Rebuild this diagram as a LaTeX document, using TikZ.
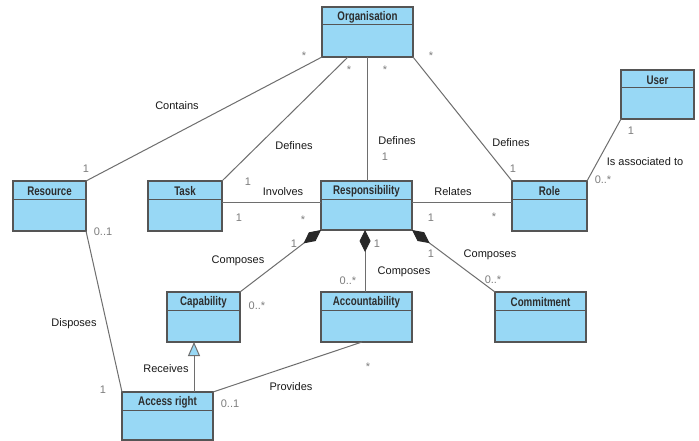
\documentclass[tikz,border=0pt]{standalone}
\usepackage{fontspec}
\usepackage{graphicx}
\setmainfont{Liberation Sans}
\usetikzlibrary{arrows.meta,calc}
\definecolor{clsfill}{RGB}{152,216,245}
\definecolor{clsdraw}{RGB}{85,85,85}
\definecolor{conn}{RGB}{110,110,110}
\definecolor{multc}{RGB}{125,125,125}
\definecolor{dia}{RGB}{40,40,40}
\definecolor{titlec}{RGB}{45,45,45}
\tikzset{
  clsbox/.style={draw=clsdraw, fill=clsfill, line width=1.1pt, inner sep=0pt, outer sep=0pt, rectangle},
  hdrline/.style={draw=clsdraw, line width=1pt},
  clstitle/.style={inner sep=0pt, text=titlec, font=\fontsize{12.5}{14}\selectfont\bfseries},
  conline/.style={draw=conn, line width=1pt},
  comp/.style={conline, {Diamond[length=22pt,width=11pt,fill=dia,color=dia]}-},
  gen/.style={conline, -{Triangle[length=14pt,width=12pt,fill=clsfill,color=conn,line width=1pt]}},
  lbl/.style={inner sep=0pt, text=black!90, font=\fontsize{11}{13}\selectfont},
  mult/.style={inner sep=0pt, text=multc, font=\fontsize{11}{13}\selectfont},
}
\newcommand{\umlcls}[6]{%
  \node[clsbox, minimum width=#4pt, minimum height=#5pt, anchor=north west] (#1) at (#2,#3) {};
  \draw[hdrline] ($(#1.north west)+(0pt,-18pt)$) -- ($(#1.north east)+(0pt,-18pt)$);
  \node[clstitle] (#1-t) at ($(#1.north)+(0pt,-10pt)$) {\scalebox{0.78}[1]{#6}};
}
\begin{document}
\begin{tikzpicture}[x=1pt,y=-1pt]
\useasboundingbox (0,0) rectangle (699,441);
\fill[white] (0,0) rectangle (699,441);

\umlcls{org}{322}{7}{91}{50}{Organisation}
\umlcls{res}{13}{181}{73}{50}{Resource}
\umlcls{task}{148}{181}{74}{50}{Task}
\umlcls{resp}{321}{181}{91}{49}{Responsibility}
\umlcls{role}{512}{181}{75}{50}{Role}
\umlcls{user}{621}{70}{73}{49}{User}
\umlcls{cap}{167}{292}{73}{50}{Capability}
\umlcls{acct}{321}{292}{91}{50}{Accountability}
\umlcls{com}{495}{292}{91}{50}{Commitment}
\umlcls{accr}{122}{392}{91}{48}{Access right}

% associations
\draw[conline] (org.south west) -- (res.north east);
\draw[conline] ($(org.south west)+(26pt,0pt)$) -- (task.north east);
\draw[conline] ($(org.south west)+(45pt,0pt)$) -- ($(resp.north west)+(46pt,0pt)$);
\draw[conline] (org.south east) -- (role.north west);
\draw[conline] (user.south west) -- (role.north east);
\draw[conline] ($(task.north east)+(0pt,-21pt)$) -- ($(resp.north west)+(0pt,-21pt)$);
\draw[conline] ($(resp.north east)+(0pt,-21pt)$) -- ($(role.north west)+(0pt,-21pt)$);
\draw[comp] (resp.south west) -- (cap.north east);
\draw[comp] ($(resp.south west)+(44pt,0pt)$) -- ($(acct.north west)+(44pt,0pt)$);
\draw[comp] (resp.south east) -- (com.north west);
\draw[gen] ($(accr.north west)+(72pt,0pt)$) -- ($(cap.south west)+(27pt,0pt)$);
\draw[conline] ($(acct.south west)+(41pt,0pt)$) -- (accr.north east);
\draw[conline] (res.south east) -- (accr.north west);

% association labels
\node[lbl] (l-contains) at (177,106) {Contains};
\node[lbl] (l-def1) at (294,146) {Defines};
\node[lbl] (l-def2) at (397,141) {Defines};
\node[lbl] (l-def3) at (511,143) {Defines};
\node[lbl] (l-assoc) at (645,162) {Is associated to};
\node[lbl] (l-inv) at (283,192) {Involves};
\node[lbl] (l-rel) at (453,192) {Relates};
\node[lbl] (l-comp1) at (238,261) {Composes};
\node[lbl] (l-comp2) at (404,272) {Composes};
\node[lbl] (l-comp3) at (490,255) {Composes};
\node[lbl] (l-rec) at (166,369) {Receives};
\node[lbl] (l-prov) at (291,387) {Provides};
\node[lbl] (l-disp) at (74,324) {Disposes};

% multiplicities
\node[mult] (m1) at (304,56) {*};
\node[mult] (m2) at (349,70) {*};
\node[mult] (m3) at (385,70) {*};
\node[mult] (m4) at (431,56) {*};
\node[mult] (m5) at (86,169) {1};
\node[mult] (m6) at (248,182) {1};
\node[mult] (m7) at (385,157) {1};
\node[mult] (m8) at (513,169) {1};
\node[mult] (m9) at (631,131) {1};
\node[mult] (m10) at (603,180) {0..*};
\node[mult] (m11) at (239,218) {1};
\node[mult] (m12) at (303,220) {*};
\node[mult] (m13) at (431,218) {1};
\node[mult] (m14) at (494,217) {*};
\node[mult] (m15) at (294,244) {1};
\node[mult] (m16) at (257,306) {0..*};
\node[mult] (m17) at (377,244) {1};
\node[mult] (m18) at (348,281) {0..*};
\node[mult] (m19) at (431,254) {1};
\node[mult] (m20) at (493,280) {0..*};
\node[mult] (m21) at (103,232) {0..1};
\node[mult] (m22) at (103,390) {1};
\node[mult] (m23) at (368,367) {*};
\node[mult] (m24) at (230,404) {0..1};
\end{tikzpicture}
\end{document}
